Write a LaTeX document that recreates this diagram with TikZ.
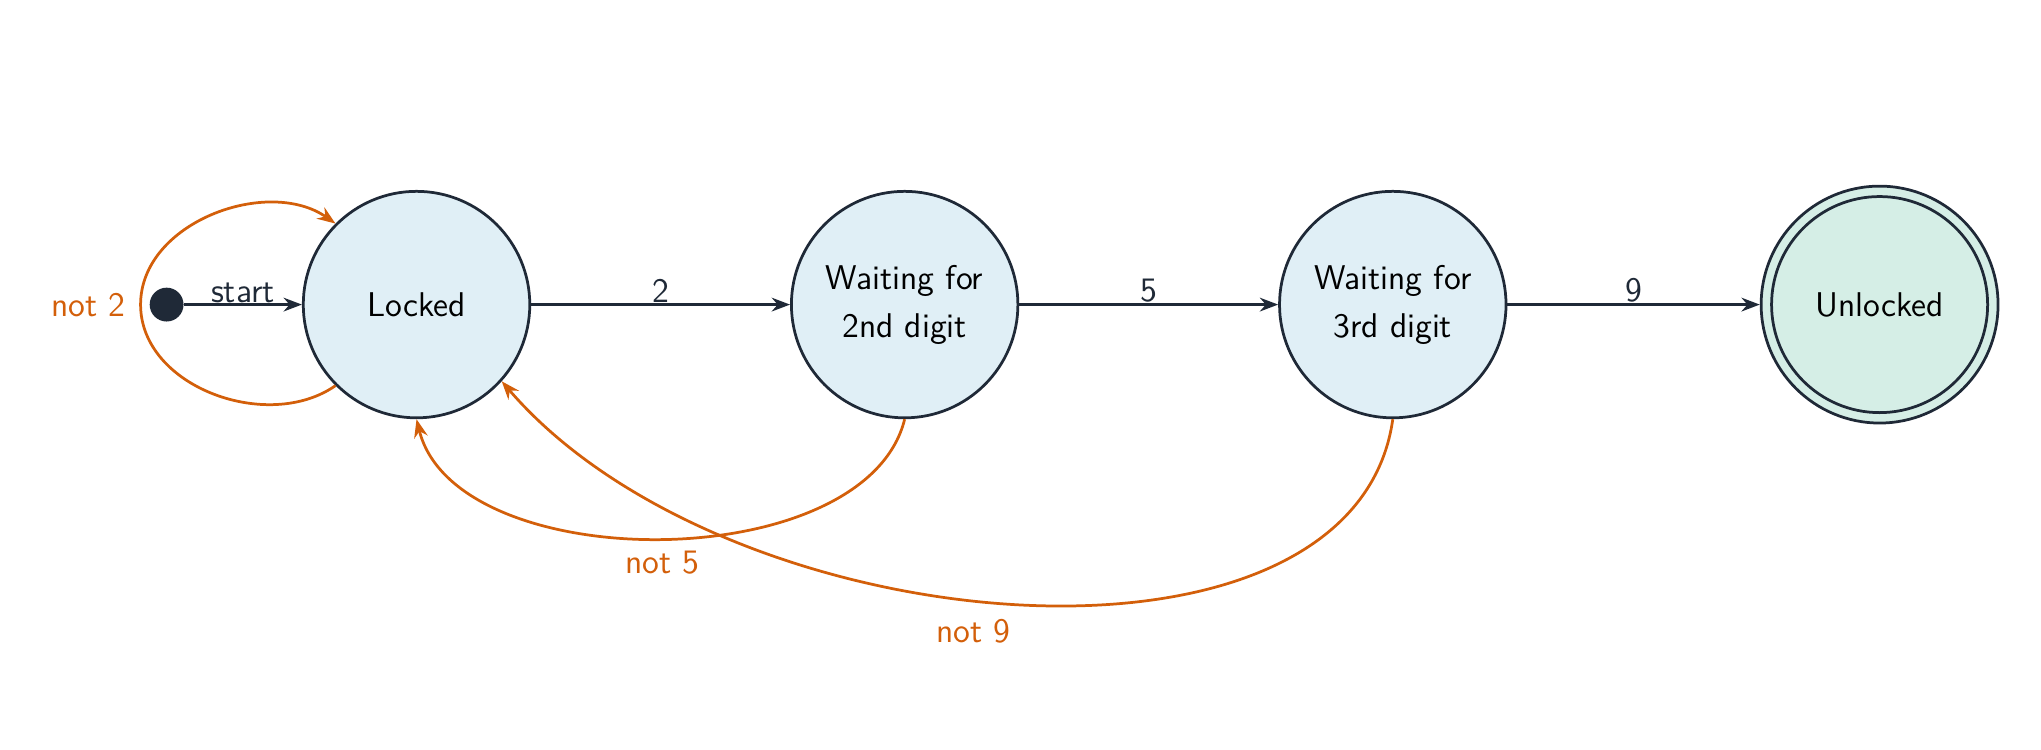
\documentclass[tikz,border=0pt]{standalone}
\usepackage{tikz}
\usetikzlibrary{arrows.meta}
\definecolor{inkNavy}{HTML}{1F2937}
\definecolor{burntOrange}{HTML}{D35F0A}
\definecolor{stateBlue}{HTML}{E0EFF6}
\definecolor{finalGreen}{HTML}{D5EEE6}
\tikzset{
  state/.style={circle, draw=inkNavy, line width=1.2pt, fill=stateBlue, minimum size=174*0.02cm, align=center, inner sep=0pt, font=\sffamily\fontsize{15}{21}\selectfont},
  go/.style={-{Stealth[length=8pt]}, draw=inkNavy, line width=1.2pt},
  back/.style={-{Stealth[length=8pt]}, draw=burntOrange, line width=1.2pt},
  lbl/.style={font=\sffamily\fontsize{15}{18}\selectfont, text=inkNavy},
  olbl/.style={font=\sffamily\fontsize{15}{18}\selectfont, text=burntOrange}
}
\begin{document}
\begin{tikzpicture}[x=0.02cm,y=0.02cm]
        \useasboundingbox (0,0) rectangle (1568,576);
        % states
        \node[state] (locked) at (320,342) {Locked};
        \node[state] (wait2) at (695,342) {Waiting for\\2nd digit};
        \node[state] (wait3) at (1070,342) {Waiting for\\3rd digit};
        \node[circle, draw=inkNavy, line width=1.2pt, fill=finalGreen, minimum size=182*0.02cm] (open) at (1444,342) {};
        \node[state, fill=finalGreen, minimum size=166*0.02cm] (unlocked) at (1444,342) {Unlocked};
        \node[circle, fill=inkNavy, minimum size=26*0.02cm, inner sep=0pt] (init) at (128,342) {};

        % forward
        \draw[go] (init) -- node[lbl, above, yshift=-3pt] {start} (locked);
        \draw[go] (locked) -- node[lbl, above, yshift=-3pt] {2} (wait2);
        \draw[go] (wait2) -- node[lbl, above, yshift=-3pt] {5} (wait3);
        \draw[go] (wait3) -- node[lbl, above, yshift=-3pt] {9} (open);

        % back to locked
        \coordinate (loopLeft) at (108,342);
        \draw[back] (locked.225) to[out=215,in=270] (loopLeft) to[out=90,in=145] (locked.135);
        \node[olbl] (not2) at (68,342) {not 2};
        \draw[back] (wait2.south) .. controls (665,132) and (350,132) .. (locked.south);
        \node[olbl] (not5) at (509,144) {not 5};
        \draw[back] (wait3.south) .. controls (1040,40) and (560,80) .. (locked.-42);
        \node[olbl] (not9) at (748,91) {not 9};
    \end{tikzpicture}
\end{document}
